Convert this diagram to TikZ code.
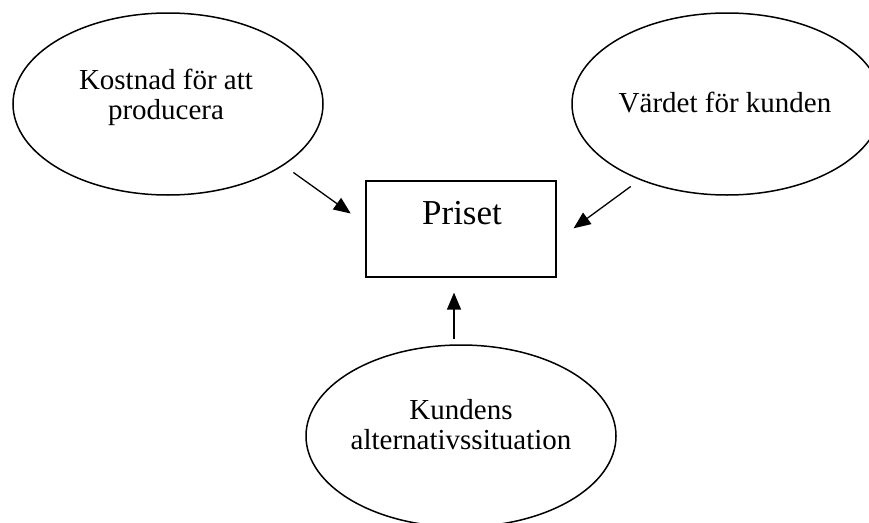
\documentclass[tikz,border=0pt]{standalone}
\usepackage{fontspec}
\setmainfont{Liberation Serif}
\usetikzlibrary{shapes.geometric, arrows.meta}

\begin{document}
\begin{tikzpicture}[x=1pt, y=-1pt,
    boll/.style={draw, ellipse, line width=1.5pt, minimum width=310pt, minimum height=182pt, inner sep=0pt},
    ruta/.style={draw, line width=1.2pt, minimum width=190pt, minimum height=96pt, inner sep=0pt},
    txt/.style={font=\fontsize{29}{30}\selectfont, align=center, inner sep=0pt},
    pil/.style={line width=1.3pt, -{Triangle[length=17pt, width=14pt]}}]
    \useasboundingbox (0,0) rectangle (869,522);
    \clip (0,0) rectangle (869,522);
    % ellipser och rutan
    \node[boll] (kost) at (168,104) {};
    \node[boll] (vaerde) at (727,104) {};
    \node[boll] (kund) at (461,436) {};
    \node[ruta] (pris) at (461,229) {};
    % texter
    \node[txt] (kosttext) at (166,97) {Kostnad för att\\producera};
    \node[txt] (vaerdetext) at (725,103) {Värdet för kunden};
    \node[txt] (kundtext) at (461,425) {Kundens\\alternativssituation};
    \node[txt, font=\fontsize{35}{36}\selectfont] (pristext) at (462,213) {Priset};
    % pilar
    \draw[pil, shorten <=12pt, shorten >=18pt] (kost.-28) -- (pris.177);
    \draw[pil, shorten <=11pt, shorten >=21pt] (vaerde.-139) -- (pris.-7);
    \draw[pil, shorten <=5pt, shorten >=15pt] ([xshift=-7pt]kund.north) -- ([xshift=-7pt]pris.south);
\end{tikzpicture}
\end{document}
